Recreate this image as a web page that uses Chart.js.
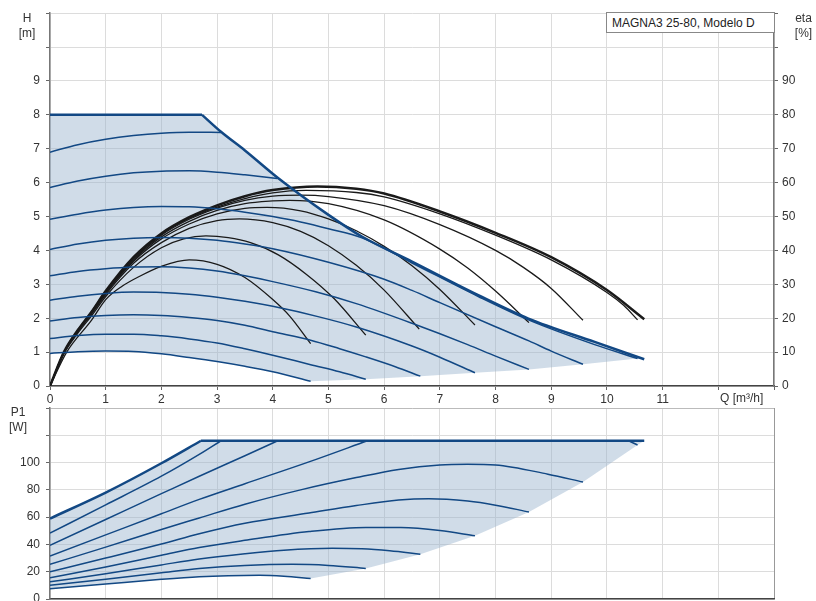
<!DOCTYPE html>
<html>
<head>
<meta charset="utf-8">
<script src="https://cdn.jsdelivr.net/npm/chart.js@4.4.0/dist/chart.umd.min.js"></script>
<style>
  body { margin: 0; background: #fff; font-family: "Liberation Sans", Arial, sans-serif; }
  #wrap { position: relative; width: 816px; height: 601px; overflow: hidden; }
  canvas { position: absolute; left: 0; }
  .lbl { position: absolute; font-size: 12px; line-height: 15px; color: #333; text-align: center; }
  #model { position: absolute; left: 606px; top: 12px; width: 162px; height: 19px; padding-left: 5px;
           border: 1px solid #888; background: #fff; font-size: 12px; line-height: 20px; color: #222; }
</style>
</head>
<body>
<div id="wrap">
  <canvas id="hChart" width="816" height="408" style="top:0"></canvas>
  <canvas id="pChart" width="816" height="224" style="top:390px"></canvas>
  <div class="lbl" style="left:14px;top:11px;width:26px">H<br>[m]</div>
  <div class="lbl" style="left:791px;top:11px;width:25px">eta<br>[%]</div>
  <div class="lbl" style="left:5px;top:405px;width:26px">P1<br>[W]</div>
  <div class="lbl" style="left:720px;top:391px;text-align:left">Q [m³/h]</div>
  <div id="model">MAGNA3 25-80, Modelo D</div>
</div>
<script>
// axis label limits (ticks above these are drawn without a label)
const Q_LABEL_MAX = 11;
const H_LABEL_MAX = 9;
const ETA_LABEL_MAX = 90;
const P_LABEL_MAX = 100;

// head curves H [m] vs Q [m3/h]
const H_MAX_FLAT = [[0, 8], [2.73, 8]];
const H_MAX_ENV = [[2.73, 8], [3.07, 7.5], [3.5, 6.95], [4.1, 6.13], [5.0, 5.05], [5.6, 4.41], [6.5, 3.67], [7.69, 2.68], [8.59, 1.99], [9.78, 1.3], [10.67, 0.79]];
const H_1 = [[0, 6.9], [0.5, 7.12], [1, 7.28], [1.5, 7.39], [2, 7.46], [2.5, 7.49], [3.07, 7.48]];
const H_2 = [[0, 5.86], [0.5, 6.05], [1, 6.19], [1.5, 6.29], [2, 6.34], [2.5, 6.35], [3, 6.31], [3.5, 6.23], [4.08, 6.12]];
const H_3 = [[0, 4.92], [0.5, 5.07], [1, 5.19], [1.5, 5.27], [2, 5.3], [2.5, 5.29], [3, 5.23], [3.5, 5.13], [4, 5.0], [4.5, 4.84], [5, 4.64], [5.6, 4.37], [6.5, 3.63], [7.69, 2.64], [8.59, 1.95], [9.78, 1.22], [10.55, 0.81]];
const H_4 = [[0, 4.03], [0.5, 4.19], [1, 4.3], [1.5, 4.36], [2, 4.38], [2.5, 4.36], [3, 4.3], [3.5, 4.19], [4, 4.05], [5, 3.65], [6, 3.15], [6.5, 2.82], [7, 2.46], [8, 1.75], [8.6, 1.33], [9, 1.03], [9.57, 0.64]];
const H_5 = [[0, 3.25], [0.5, 3.38], [1, 3.46], [1.5, 3.51], [2, 3.52], [2.5, 3.48], [3, 3.39], [3.5, 3.25], [4, 3.08], [4.77, 2.78], [5.5, 2.43], [6.5, 1.85], [7.5, 1.22], [8, 0.88], [8.6, 0.49]];
const H_6 = [[0, 2.53], [0.5, 2.65], [1, 2.73], [1.5, 2.77], [2, 2.76], [2.5, 2.71], [3, 2.62], [3.5, 2.5], [4, 2.35], [4.83, 2.04], [5.5, 1.74], [6.5, 1.18], [7, 0.85], [7.63, 0.39]];
const H_7 = [[0, 1.92], [0.5, 2.02], [1, 2.08], [1.5, 2.1], [2, 2.08], [2.5, 2.02], [3, 1.93], [3.5, 1.79], [4, 1.6], [4.68, 1.35], [5.2, 1.1], [5.67, 0.86], [6.2, 0.57], [6.65, 0.29]];
const H_8 = [[0, 1.4], [0.5, 1.49], [1, 1.53], [1.5, 1.53], [2, 1.48], [2.5, 1.39], [3, 1.27], [3.5, 1.1], [4, 0.91], [4.68, 0.63], [5.2, 0.42], [5.67, 0.2]];
const H_9 = [[0, 0.96], [0.5, 1.01], [1, 1.03], [1.5, 1.02], [2, 0.95], [2.5, 0.84], [3, 0.72], [3.5, 0.58], [4, 0.42], [4.68, 0.14]];
const H_ENDS = [[5.67, 0.2], [6.65, 0.29], [7.63, 0.39], [8.6, 0.49], [9.57, 0.64], [10.55, 0.81], [10.67, 0.79]];

// efficiency curves eta [%] vs Q
const ETA_MAX = [[0, 0], [0.25, 10], [0.5, 16.5], [0.75, 22], [1, 28], [1.5, 38], [2, 45], [2.5, 49.8], [3, 53.3], [3.5, 56], [4, 57.8], [4.8, 58.9], [5.5, 58.2], [6, 56.8], [7, 51.5], [8, 45.2], [9, 38], [10, 28.3], [10.67, 19.7]];
const ETA_3 = [[0, 0], [0.25, 10], [0.5, 16.5], [0.75, 22], [1, 28], [1.5, 37.8], [2, 44.8], [2.5, 49.5], [3, 52.8], [3.5, 55.3], [4, 57], [4.6, 57.7], [5.5, 57.1], [6, 55.8], [7, 50.8], [8, 44.5], [9, 37.2], [10, 27.6], [10.3, 23.8], [10.55, 19.5]];
const ETA_4 = [[0, 0], [0.25, 10], [0.5, 16.4], [0.75, 21.9], [1, 27.8], [1.5, 37.5], [2, 44.5], [2.5, 49.2], [3, 52.5], [3.5, 54.8], [4, 56], [4.5, 56.3], [5, 55.9], [6, 53.2], [7, 47.6], [8, 40], [8.5, 35], [9, 28.8], [9.57, 19.4]];
const ETA_5 = [[0, 0], [0.25, 10], [0.5, 16.3], [0.75, 21.8], [1, 27.6], [1.5, 37.2], [2, 44], [2.5, 48.6], [3, 51.8], [3.5, 53.8], [4, 54.6], [4.3, 54.8], [5, 53.8], [6, 49], [7, 40.4], [7.5, 34.8], [8, 28], [8.6, 18.7]];
const ETA_6 = [[0, 0], [0.25, 9.8], [0.5, 16.2], [0.75, 21.6], [1, 27.4], [1.5, 36.8], [2, 43.4], [2.5, 47.8], [3, 50.8], [3.5, 52.4], [3.9, 52.7], [4.5, 51.7], [5, 49.3], [5.5, 45.8], [6, 41.2], [6.5, 35.5], [7, 28.5], [7.63, 18]];
const ETA_7 = [[0, 0], [0.25, 9.7], [0.5, 16], [0.75, 21.3], [1, 27], [1.5, 36.2], [2, 42.3], [2.5, 46.5], [3, 48.8], [3.4, 49.3], [4, 48.2], [4.5, 45.6], [5, 41.4], [5.5, 35.6], [6, 28.3], [6.63, 16.8]];
const ETA_8 = [[0, 0], [0.25, 9.5], [0.5, 15.6], [0.75, 20.8], [1, 26.4], [1.5, 35], [2, 40.8], [2.4, 43.4], [2.8, 44.3], [3.2, 43.8], [3.6, 42.3], [4.1, 38.7], [4.6, 33], [5.1, 25.8], [5.67, 15]];
const ETA_9 = [[0, 0], [0.3, 10], [0.75, 19.5], [1, 25.5], [1.3, 29.5], [1.6, 32.3], [2, 35.3], [2.5, 37.2], [3, 35.9], [3.5, 32], [4, 25.5], [4.3, 20.7], [4.68, 12.5]];

// power curves P1 [W] vs Q
const P_MAX_RISE = [[0, 59], [1, 78], [2, 99.5], [2.71, 116]];
const P_MAX_FLAT = [[2.71, 116], [10.67, 116]];
const P_1 = [[0, 48.3], [1, 69], [2, 90], [2.68, 106], [3.07, 116]];
const P_2 = [[0, 39.4], [1, 58.3], [2, 77.2], [2.68, 90], [3.5, 105], [4.09, 116]];
const P_3 = [[0, 31.5], [1, 47], [2, 62.5], [2.68, 73], [3.5, 84.5], [4.65, 100.5], [5.7, 116]];
const P_3_TAIL = [[5.7, 116], [10.35, 116], [10.55, 112.9]];
const P_4 = [[0, 25.4], [1, 38], [2, 51], [2.68, 59.4], [3.5, 69.5], [4.5, 80], [5.5, 89], [6.26, 95], [7, 98.3], [7.5, 98.8], [8, 98.3], [8.94, 91.5], [9.57, 85.7]];
const P_5 = [[0, 20], [1, 30], [2, 40.3], [2.68, 47.8], [3.5, 55.5], [4.65, 63], [5.5, 68.5], [6.26, 72.5], [6.8, 73.5], [7.5, 71.8], [8, 68.8], [8.6, 63.8]];
const P_6 = [[0, 15.5], [1, 23.5], [2, 32], [2.68, 37.7], [3.5, 43], [4.65, 49.5], [5.67, 52.5], [6.3, 52.4], [7, 50.2], [7.63, 46.3]];
const P_7 = [[0, 12.6], [1, 18.5], [2, 25], [2.68, 29.3], [3.5, 33.2], [4.2, 35.8], [5.07, 37.2], [5.6, 36.8], [6.1, 35.3], [6.65, 32.8]];
const P_8 = [[0, 10.1], [1, 14.5], [2, 19.3], [2.68, 22.4], [3.5, 24.6], [4.35, 25.4], [5, 24.6], [5.67, 22.4]];
const P_9 = [[0, 7.6], [1, 11], [2, 14.4], [2.68, 16.3], [3.2, 17.1], [3.76, 17.4], [4.2, 16.7], [4.68, 15]];
const P_ENDS = [[5.67, 22.4], [6.65, 32.8], [7.63, 46.3], [8.6, 63.8], [9.57, 85.7], [10.55, 112.9], [10.67, 116]];

const BLUE = '#124884';
const BLACK = '#1a1a1a';
const FILL = 'rgba(150,178,205,0.45)';
const GRID = '#dcdcdc';

Chart.defaults.font.family = '"Liberation Sans", Arial, sans-serif';
Chart.defaults.font.size = 12;
Chart.defaults.color = '#333';

const pts = a => a.map(([x, y]) => ({ x, y }));

function curve(data, color, width, axis) {
  return {
    data: pts(data), borderColor: color, borderWidth: width, pointRadius: 0,
    fill: false, cubicInterpolationMode: 'monotone', yAxisID: axis, order: 1
  };
}

// area between the upper and lower limits, filled to the next dataset
function area(upper, lower, axis) {
  return [
    { data: pts(upper), borderColor: 'rgba(0,0,0,0)', borderWidth: 1, pointRadius: 0,
      tension: 0, fill: '+1', backgroundColor: FILL, yAxisID: axis, order: 5 },
    { data: pts(lower), borderColor: 'rgba(0,0,0,0)', borderWidth: 1, pointRadius: 0,
      tension: 0, fill: false, yAxisID: axis, order: 5 }
  ];
}

const baseOptions = {
  responsive: false, animation: false, devicePixelRatio: 1,
  plugins: { legend: { display: false }, tooltip: { enabled: false } }
};

// --- H / eta chart
new Chart(document.getElementById('hChart'), {
  type: 'line',
  data: {
    datasets: [
      ...area(H_MAX_FLAT.concat(H_MAX_ENV.slice(1)), H_9.concat(H_ENDS), 'y'),
      curve(H_MAX_FLAT, BLUE, 2.5, 'y'),
      curve(H_MAX_ENV, BLUE, 2.5, 'y'),
      curve(H_1, BLUE, 1.5, 'y'),
      curve(H_2, BLUE, 1.5, 'y'),
      curve(H_3, BLUE, 1.5, 'y'),
      curve(H_4, BLUE, 1.5, 'y'),
      curve(H_5, BLUE, 1.5, 'y'),
      curve(H_6, BLUE, 1.5, 'y'),
      curve(H_7, BLUE, 1.5, 'y'),
      curve(H_8, BLUE, 1.5, 'y'),
      curve(H_9, BLUE, 1.5, 'y'),
      curve(ETA_9, BLACK, 1.3, 'y2'),
      curve(ETA_8, BLACK, 1.3, 'y2'),
      curve(ETA_7, BLACK, 1.3, 'y2'),
      curve(ETA_6, BLACK, 1.3, 'y2'),
      curve(ETA_5, BLACK, 1.3, 'y2'),
      curve(ETA_4, BLACK, 1.3, 'y2'),
      curve(ETA_3, BLACK, 1.3, 'y2'),
      curve(ETA_MAX, BLACK, 2.5, 'y2')
    ]
  },
  options: {
    ...baseOptions,
    layout: { padding: { top: 12, left: 0, right: 0, bottom: 0 } },
    scales: {
      x: {
        type: 'linear', min: 0, max: 13,
        afterFit: s => { s.height = 22; },
        ticks: { stepSize: 1, autoSkip: false, maxRotation: 0, padding: 2,
                 callback: v => (v <= Q_LABEL_MAX ? v : '') },
        grid: { color: GRID, tickColor: '#666', tickLength: 4 },
        border: { color: '#444', width: 1.5 }
      },
      y: {
        position: 'left', min: 0, max: 11,
        afterFit: s => { s.width = 50; },
        ticks: { stepSize: 1, padding: 6, callback: v => (v <= H_LABEL_MAX ? v : '') },
        grid: { color: GRID, tickColor: '#666', tickLength: 4 },
        border: { color: '#777', width: 1.5 }
      },
      y2: {
        position: 'right', min: 0, max: 110,
        afterFit: s => { s.width = 42; },
        ticks: { stepSize: 10, padding: 4, callback: v => (v <= ETA_LABEL_MAX ? v : '') },
        grid: { drawOnChartArea: false, tickColor: '#666', tickLength: 4 },
        border: { color: '#777', width: 1.5 }
      }
    }
  }
});

// --- P1 chart (canvas runs past the page bottom so the plot ends at y=597)
new Chart(document.getElementById('pChart'), {
  type: 'line',
  data: {
    datasets: [
      ...area(P_MAX_RISE.concat(P_MAX_FLAT.slice(1)), P_9.concat(P_ENDS), 'y'),
      curve(P_MAX_RISE, BLUE, 2.5, 'y'),
      curve(P_MAX_FLAT, BLUE, 2.5, 'y'),
      curve(P_1, BLUE, 1.5, 'y'),
      curve(P_2, BLUE, 1.5, 'y'),
      curve(P_3, BLUE, 1.5, 'y'),
      curve(P_3_TAIL, BLUE, 1.5, 'y'),
      curve(P_4, BLUE, 1.5, 'y'),
      curve(P_5, BLUE, 1.5, 'y'),
      curve(P_6, BLUE, 1.5, 'y'),
      curve(P_7, BLUE, 1.5, 'y'),
      curve(P_8, BLUE, 1.5, 'y'),
      curve(P_9, BLUE, 1.5, 'y')
    ]
  },
  options: {
    ...baseOptions,
    layout: { padding: { top: 18, left: 0, right: 42, bottom: 0 } },
    scales: {
      x: {
        type: 'linear', min: 0, max: 13,
        afterFit: s => { s.height = 15; },
        ticks: { display: false, stepSize: 1 },
        grid: { color: c => (c.tick && c.tick.value === 13 ? '#999' : GRID), drawTicks: false },
        border: { color: '#444', width: 1.5 }
      },
      y: {
        position: 'left', min: 0, max: 140,
        afterFit: s => { s.width = 50; },
        ticks: { stepSize: 20, padding: 6, callback: v => (v <= P_LABEL_MAX ? v : '') },
        grid: { color: c => (c.tick && c.tick.value === 140 ? '#bbb' : GRID), tickColor: '#666', tickLength: 4 },
        border: { color: '#777', width: 1.5 }
      }
    }
  }
});
</script>
</body>
</html>
